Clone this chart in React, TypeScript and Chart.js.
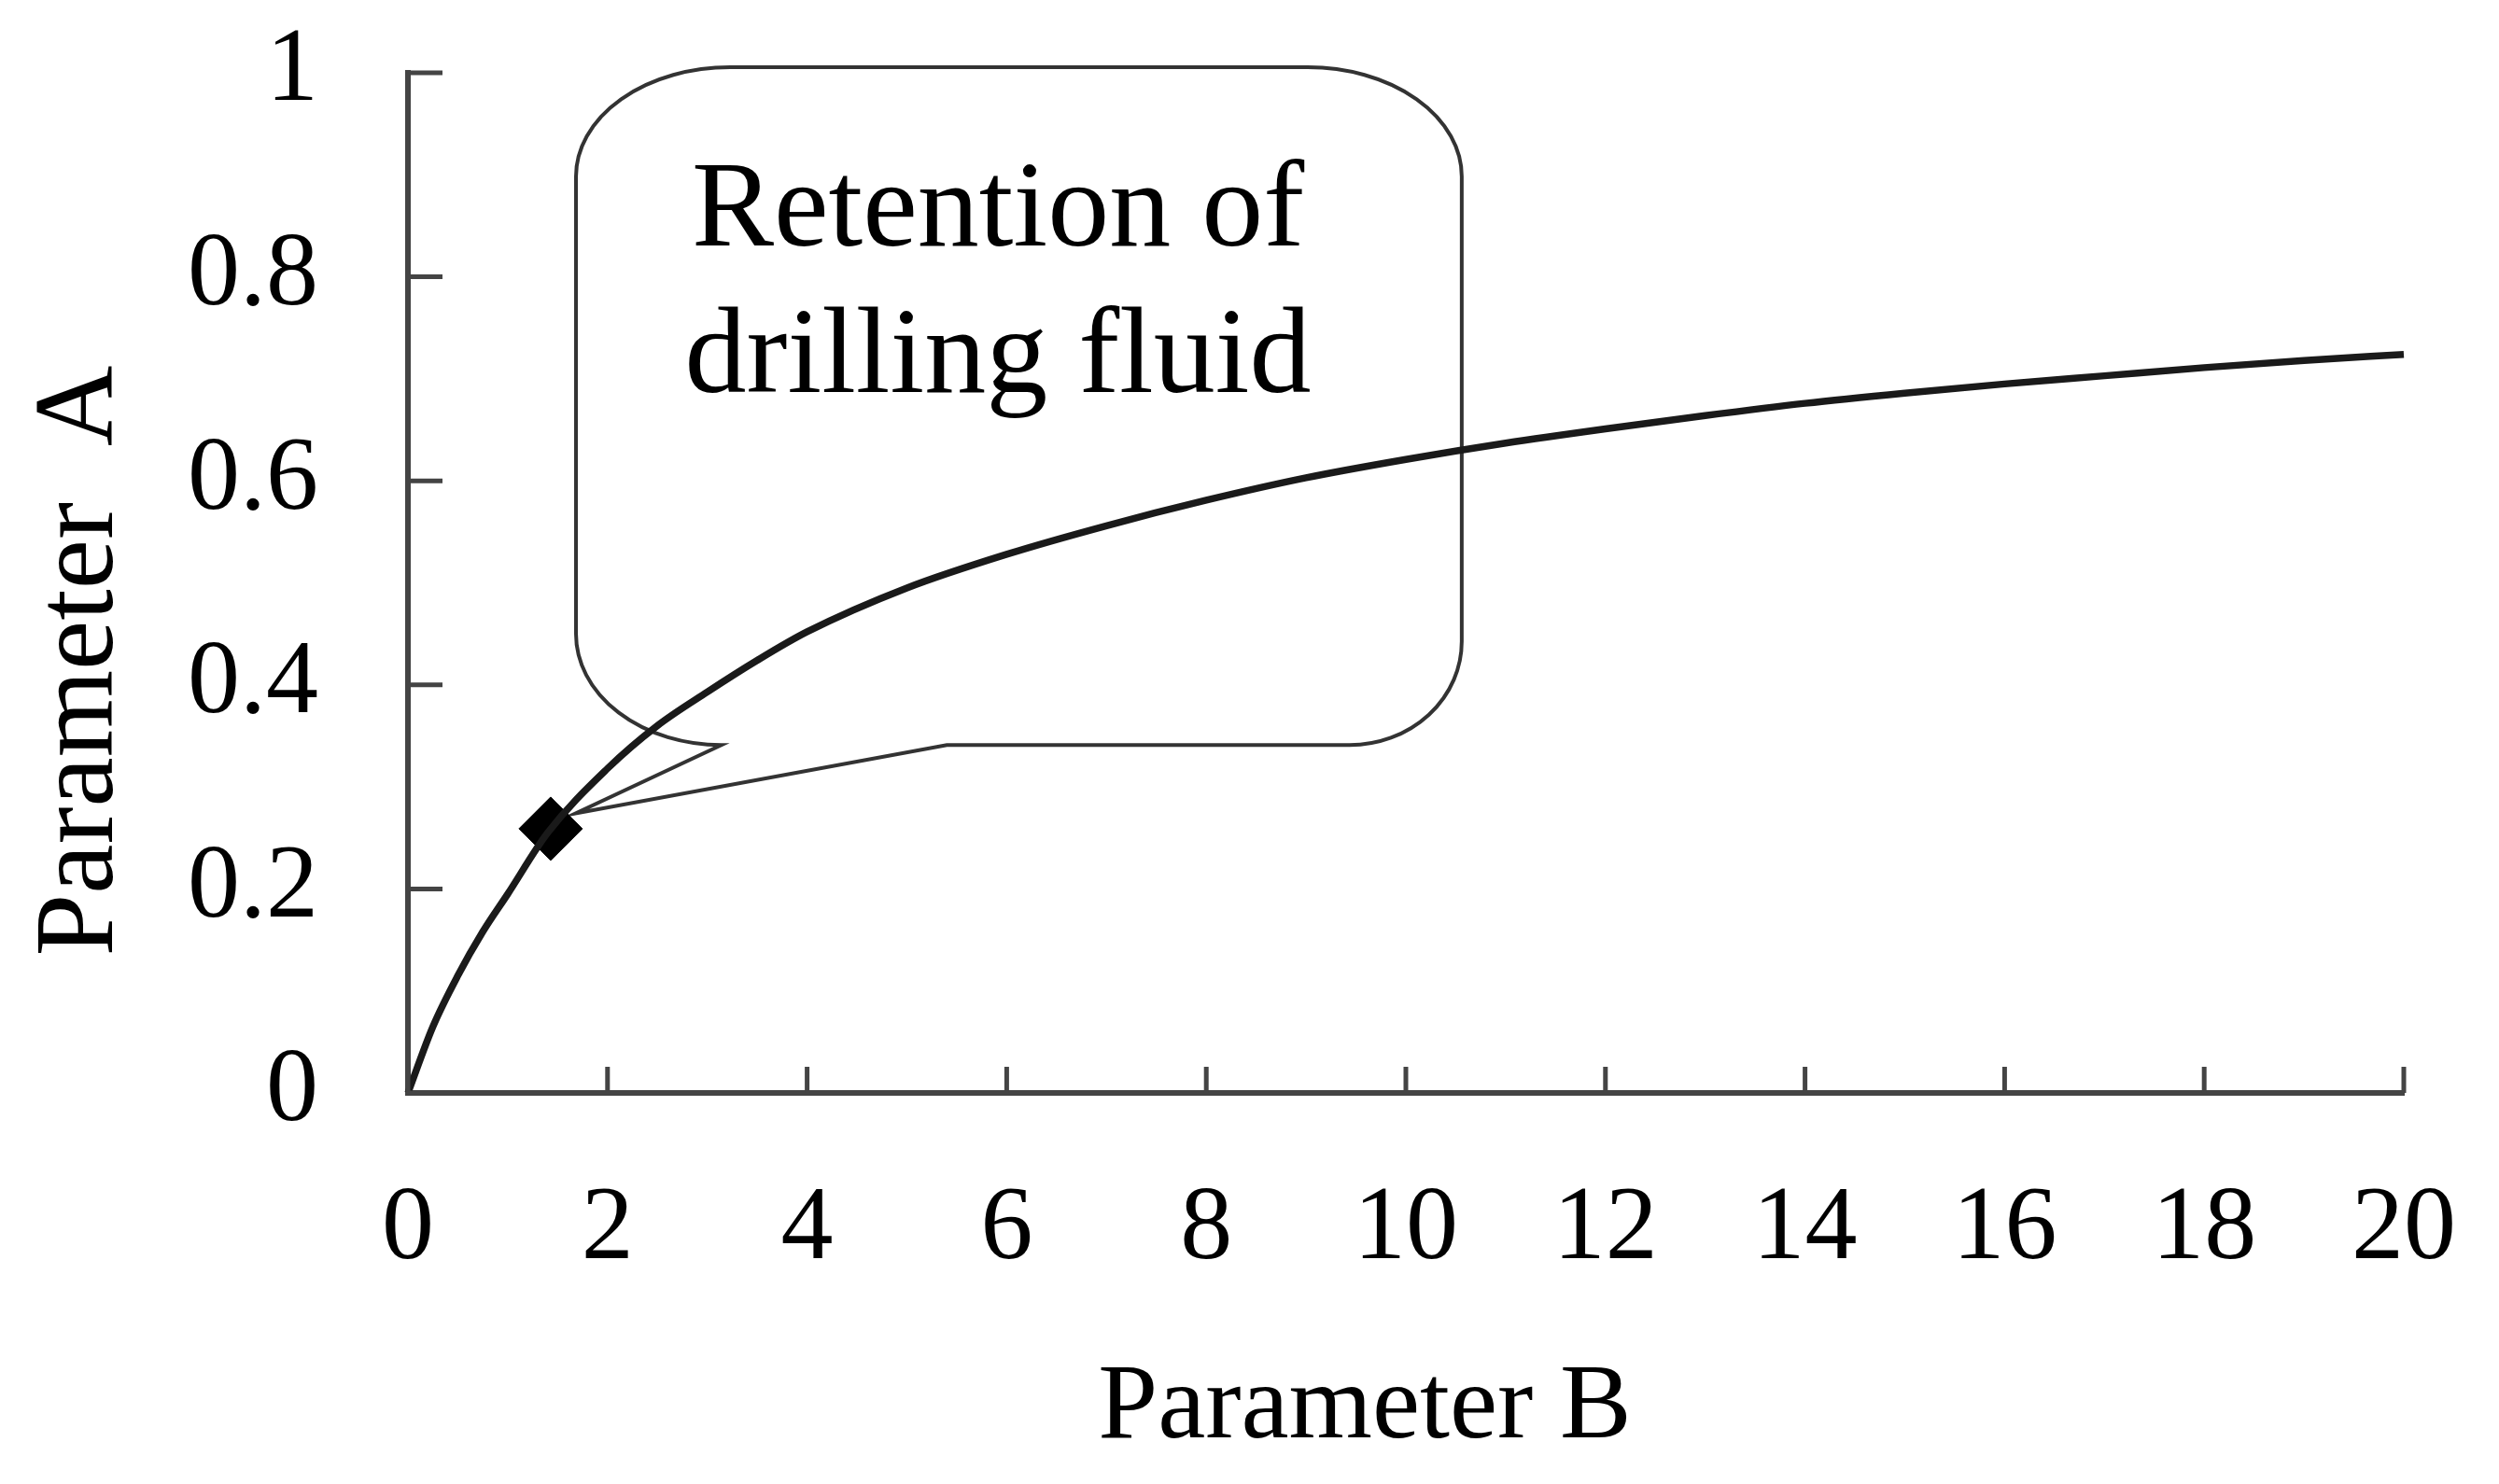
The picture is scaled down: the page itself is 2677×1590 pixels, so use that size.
import React, { useEffect, useRef } from "react";
import { Chart, registerables } from "chart.js";

Chart.register(...registerables);

// ---- data ----
const paramB = [0, 0.25, 0.5, 0.75, 1, 1.4, 2, 2.5, 3, 3.5, 4, 5, 6, 7, 8, 9, 10, 11, 12, 13, 14, 15, 16, 17, 18, 19, 20];
const paramA = [0, 0.065, 0.115, 0.158, 0.195, 0.255, 0.318, 0.36, 0.393, 0.424, 0.452, 0.495, 0.528, 0.556, 0.581, 0.603, 0.621, 0.637, 0.651, 0.664, 0.676, 0.686, 0.695, 0.703, 0.711, 0.718, 0.724];
const markerB = [1.43];
const markerA = [0.259];
const xTicks = [0, 2, 4, 6, 8, 10, 12, 14, 16, 18, 20];
const yTicks = [0, 0.2, 0.4, 0.6, 0.8, 1];
const xTitle = "Parameter B";
const yTitle = "Parameter  A";
const calloutLines = ["Retention of", "drilling fluid"];

// callout geometry in data units (B, A)
const calloutBox = { left: 1.684, right: 10.56, top: 1.0055, bottom: 0.341 };
const calloutTip = { x: 1.68, y: 0.274 };
const calloutWedge = { startX: 5.4, endX: 3.14 };
const calloutTextAnchor = { x: 5.912, y: [0.8307, 0.6871] };

const FONT = '"Liberation Serif", "Times New Roman", serif';

const decorPlugin = {
  id: "decor",
  beforeDatasetsDraw(chart: any) {
    const ctx = chart.ctx;
    const xs = chart.scales.x;
    const ys = chart.scales.y;
    const L = xs.getPixelForValue(calloutBox.left);
    const R = xs.getPixelForValue(calloutBox.right);
    const T = ys.getPixelForValue(calloutBox.top);
    const B = ys.getPixelForValue(calloutBox.bottom);
    const tipX = xs.getPixelForValue(calloutTip.x);
    const tipY = ys.getPixelForValue(calloutTip.y);
    const p2 = xs.getPixelForValue(calloutWedge.startX);
    const p1 = xs.getPixelForValue(calloutWedge.endX);
    const rxT = 165;
    const ryT = 117;
    const rxBR = 120;
    const ryBR = 111;
    const rxBL = p1 - L;
    const ryBL = 119;
    ctx.save();
    ctx.beginPath();
    ctx.moveTo(L + rxT, T);
    ctx.lineTo(R - rxT, T);
    ctx.ellipse(R - rxT, T + ryT, rxT, ryT, 0, -Math.PI / 2, 0);
    ctx.lineTo(R, B - ryBR);
    ctx.ellipse(R - rxBR, B - ryBR, rxBR, ryBR, 0, 0, Math.PI / 2);
    ctx.lineTo(p2, B);
    ctx.lineTo(tipX, tipY);
    ctx.lineTo(p1, B);
    ctx.ellipse(L + rxBL, B - ryBL, rxBL, ryBL, 0, Math.PI / 2, Math.PI);
    ctx.lineTo(L, T + ryT);
    ctx.ellipse(L + rxT, T + ryT, rxT, ryT, 0, Math.PI, Math.PI * 1.5);
    ctx.closePath();
    ctx.lineWidth = 4;
    ctx.strokeStyle = "#333";
    ctx.lineJoin = "miter";
    ctx.stroke();

    ctx.fillStyle = "#000";
    ctx.font = `132px ${FONT}`;
    ctx.textAlign = "center";
    ctx.textBaseline = "alphabetic";
    const tx = xs.getPixelForValue(calloutTextAnchor.x);
    calloutLines.forEach((line, i) => {
      ctx.fillText(line, tx, ys.getPixelForValue(calloutTextAnchor.y[i]));
    });
    ctx.restore();
  },
  afterDraw(chart: any) {
    const ctx = chart.ctx;
    const xs = chart.scales.x;
    const ys = chart.scales.y;
    const area = chart.chartArea;
    ctx.save();
    ctx.strokeStyle = "#444";
    ctx.lineWidth = 5;
    ctx.beginPath();
    yTicks.forEach((v) => {
      const py = ys.getPixelForValue(v);
      ctx.moveTo(area.left, py);
      ctx.lineTo(area.left + 37, py);
    });
    xTicks.forEach((v) => {
      const px = xs.getPixelForValue(v);
      ctx.moveTo(px, area.bottom);
      ctx.lineTo(px, area.bottom - 28);
    });
    ctx.stroke();

    ctx.fillStyle = "#000";
    ctx.textBaseline = "alphabetic";
    ctx.textAlign = "center";
    ctx.font = `115px ${FONT}`;
    ctx.fillText(xTitle, 1462, 1540);

    ctx.translate(120, 708);
    ctx.rotate(-Math.PI / 2);
    ctx.font = `120px ${FONT}`;
    ctx.fillText(yTitle, 0, 0);
    ctx.restore();
  },
};

export default function App() {
  const canvasRef = useRef<HTMLCanvasElement | null>(null);

  useEffect(() => {
    const canvas = canvasRef.current;
    if (!canvas) return;
    const curve = paramB.map((b, i) => ({ x: b, y: paramA[i] }));
    const marker = markerB.map((b, i) => ({ x: b, y: markerA[i] }));

    const chart = new Chart(canvas, {
      type: "scatter",
      data: {
        datasets: [
          {
            data: curve,
            showLine: true,
            borderColor: "#1a1a1a",
            borderWidth: 7.5,
            pointRadius: 0,
            cubicInterpolationMode: "monotone",
            fill: false,
            clip: false as any,
          },
          {
            data: marker,
            pointStyle: "rectRot",
            pointRadius: 34,
            backgroundColor: "#000",
            borderColor: "#000",
            borderWidth: 1,
            showLine: false,
          },
        ],
      },
      options: {
        animation: false,
        responsive: false,
        devicePixelRatio: 1,
        layout: { padding: { left: 137, right: 102, top: 78, bottom: 119 } },
        plugins: {
          legend: { display: false },
          tooltip: { enabled: false },
          title: { display: false },
        },
        scales: {
          x: {
            type: "linear",
            min: 0,
            max: 20,
            grid: { display: false },
            border: { display: true, color: "#444", width: 6 },
            ticks: {
              color: "#000",
              padding: 72,
              font: { family: FONT, size: 112 },
              maxRotation: 0,
              callback: (v: any) => String(v),
            },
            afterBuildTicks: (scale: any) => {
              scale.ticks = xTicks.map((v) => ({ value: v }));
            },
            afterFit: (scale: any) => {
              scale.height = 300;
              scale.paddingLeft = 0;
              scale.paddingRight = 0;
            },
          },
          y: {
            type: "linear",
            min: 0,
            max: 1,
            grid: { display: false },
            border: { display: true, color: "#444", width: 6 },
            ticks: {
              color: "#000",
              padding: 88,
              font: { family: FONT, size: 112 },
              callback: (v: any) => String(v),
            },
            afterBuildTicks: (scale: any) => {
              scale.ticks = yTicks.map((v) => ({ value: v }));
            },
            afterFit: (scale: any) => {
              scale.width = 300;
              scale.paddingTop = 0;
              scale.paddingBottom = 0;
            },
          },
        },
      },
      plugins: [decorPlugin],
    });
    return () => chart.destroy();
  }, []);

  return (
    <div style={{ position: "absolute", left: 0, top: 0, width: 2677, height: 1590, background: "#fff" }}>
      <canvas ref={canvasRef} width={2677} height={1590} style={{ display: "block" }} />
    </div>
  );
}
